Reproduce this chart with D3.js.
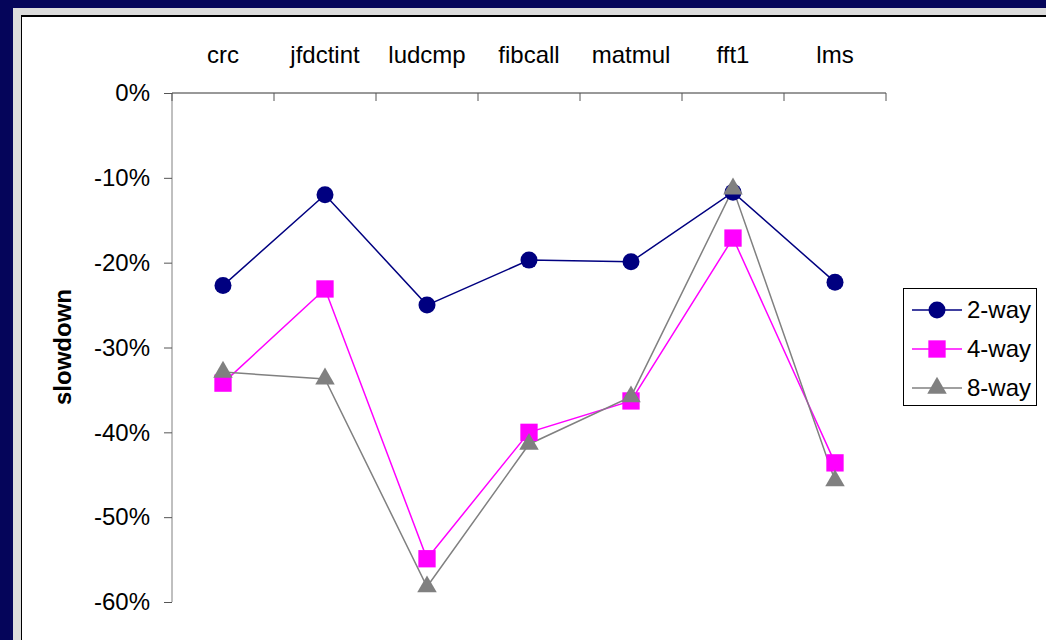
<!DOCTYPE html>
<html>
<head>
<meta charset="utf-8">
<script src="https://cdn.jsdelivr.net/npm/d3@7"></script>
<style>
  body { margin: 0; background: #05055a; }
  svg { display: block; font-family: "Liberation Sans", Arial, sans-serif; }
</style>
</head>
<body>
<div id="chart"></div>
<script>
// benchmarks along the top axis
let benchmarks = ["crc", "jfdctint", "ludcmp", "fibcall", "matmul", "fft1", "lms"];

// slowdown in percent
let twoWay   = [-22.7, -12.0, -25.0, -19.7, -19.9, -11.7, -22.3];
let fourWay  = [-34.2, -23.1, -54.9, -40.0, -36.3, -17.1, -43.6];
let eightWay = [-32.9, -33.7, -58.2, -41.4, -35.8, -11.3, -45.7];

let yTicks = [0, -10, -20, -30, -40, -50, -60];

let width = 1046, height = 640;

let svg = d3.select("#chart")
  .append("svg")
  .attr("width", width)
  .attr("height", height);

// slide background and chart frame
svg.append("rect")
  .attr("width", width).attr("height", height)
  .style("fill", "#05055a");
svg.append("rect")
  .attr("x", 13).attr("y", 8)
  .attr("width", width - 13).attr("height", height - 8)
  .style("fill", "#dcdcdc");
svg.append("rect")
  .attr("x", 21).attr("y", 15)
  .attr("width", width - 21).attr("height", height - 15)
  .style("fill", "#000");
svg.append("rect")
  .attr("x", 22).attr("y", 17)
  .attr("width", width - 22).attr("height", height - 17)
  .style("fill", "#fff");

// scales
let xScale = d3.scaleBand()
  .domain(benchmarks)
  .range([172, 886]);

let yScale = d3.scaleLinear()
  .domain([-60, 0])
  .range([602, 93]);

// y axis
let yAxis = svg.append("g")
  .attr("transform", "translate(172,0)")
  .call(d3.axisLeft(yScale)
    .tickValues(yTicks)
    .tickSize(8)
    .tickPadding(14)
    .tickFormat(d => d + "%"));
yAxis.select(".domain").attr("stroke", "#808080").attr("d", "M0,93V602");
yAxis.selectAll(".tick line").attr("stroke", "#555");
yAxis.selectAll("text")
  .style("font-size", "24px")
  .style("fill", "#000");

// top axis with category labels
let xAxis = svg.append("g")
  .attr("transform", "translate(0,93)")
  .call(d3.axisTop(xScale).tickSize(0).tickPadding(30));
xAxis.select(".domain").attr("stroke", "#333").attr("d", "M172,0H886");
xAxis.selectAll("text")
  .style("font-size", "24px")
  .style("fill", "#000");

// tick marks between categories, hanging down
svg.append("g")
  .selectAll("line")
  .data(benchmarks.concat(["end"]))
  .join("line")
  .attr("x1", (d, i) => i < benchmarks.length ? xScale(d) : xScale.range()[1])
  .attr("x2", (d, i) => i < benchmarks.length ? xScale(d) : xScale.range()[1])
  .attr("y1", 93)
  .attr("y2", 101)
  .attr("stroke", "#555");

// y axis title
svg.append("text")
  .attr("transform", "translate(71,347) rotate(-90)")
  .attr("text-anchor", "middle")
  .style("font-size", "24px")
  .style("font-weight", "bold")
  .text("slowdown");

let series = [
  { name: "2-way", values: twoWay, color: "#000080", shape: d3.symbolCircle, size: 227 },
  { name: "4-way", values: fourWay, color: "#ff00ff", shape: d3.symbolSquare, size: 300 },
  { name: "8-way", values: eightWay, color: "#808080", shape: d3.symbolTriangle, size: 165 }
];

let line = d3.line()
  .x((d, i) => xScale(benchmarks[i]) + xScale.bandwidth() / 2)
  .y(d => yScale(d));

// lines first, then markers on top
series.forEach(s => {
  svg.append("path")
    .datum(s.values)
    .attr("d", line)
    .style("fill", "none")
    .style("stroke", s.color)
    .style("stroke-width", 1.5);
});

series.forEach(s => {
  svg.append("g")
    .selectAll("path")
    .data(s.values)
    .join("path")
    .attr("transform", (d, i) =>
      `translate(${xScale(benchmarks[i]) + xScale.bandwidth() / 2},${yScale(d)})`)
    .attr("d", d3.symbol().type(s.shape).size(s.size))
    .style("fill", s.color);
});

// legend
let legend = svg.append("g");
legend.append("rect")
  .attr("x", 903.5).attr("y", 288.5)
  .attr("width", 133).attr("height", 117)
  .style("fill", "#fff")
  .style("stroke", "#000");

let legendItems = legend.selectAll("g.item")
  .data(series)
  .join("g")
  .attr("class", "item")
  .attr("transform", (d, i) => `translate(0,${310 + i * 39})`);

legendItems.append("line")
  .attr("x1", 912).attr("x2", 962)
  .attr("y1", 0).attr("y2", 0)
  .style("stroke", d => d.color)
  .style("stroke-width", 1.5);

legendItems.append("path")
  .attr("transform", "translate(937,0)")
  .attr("d", d => d3.symbol().type(d.shape).size(d.size)())
  .style("fill", d => d.color);

legendItems.append("text")
  .attr("x", 967)
  .attr("y", 8)
  .style("font-size", "24px")
  .text(d => d.name);
</script>
</body>
</html>
